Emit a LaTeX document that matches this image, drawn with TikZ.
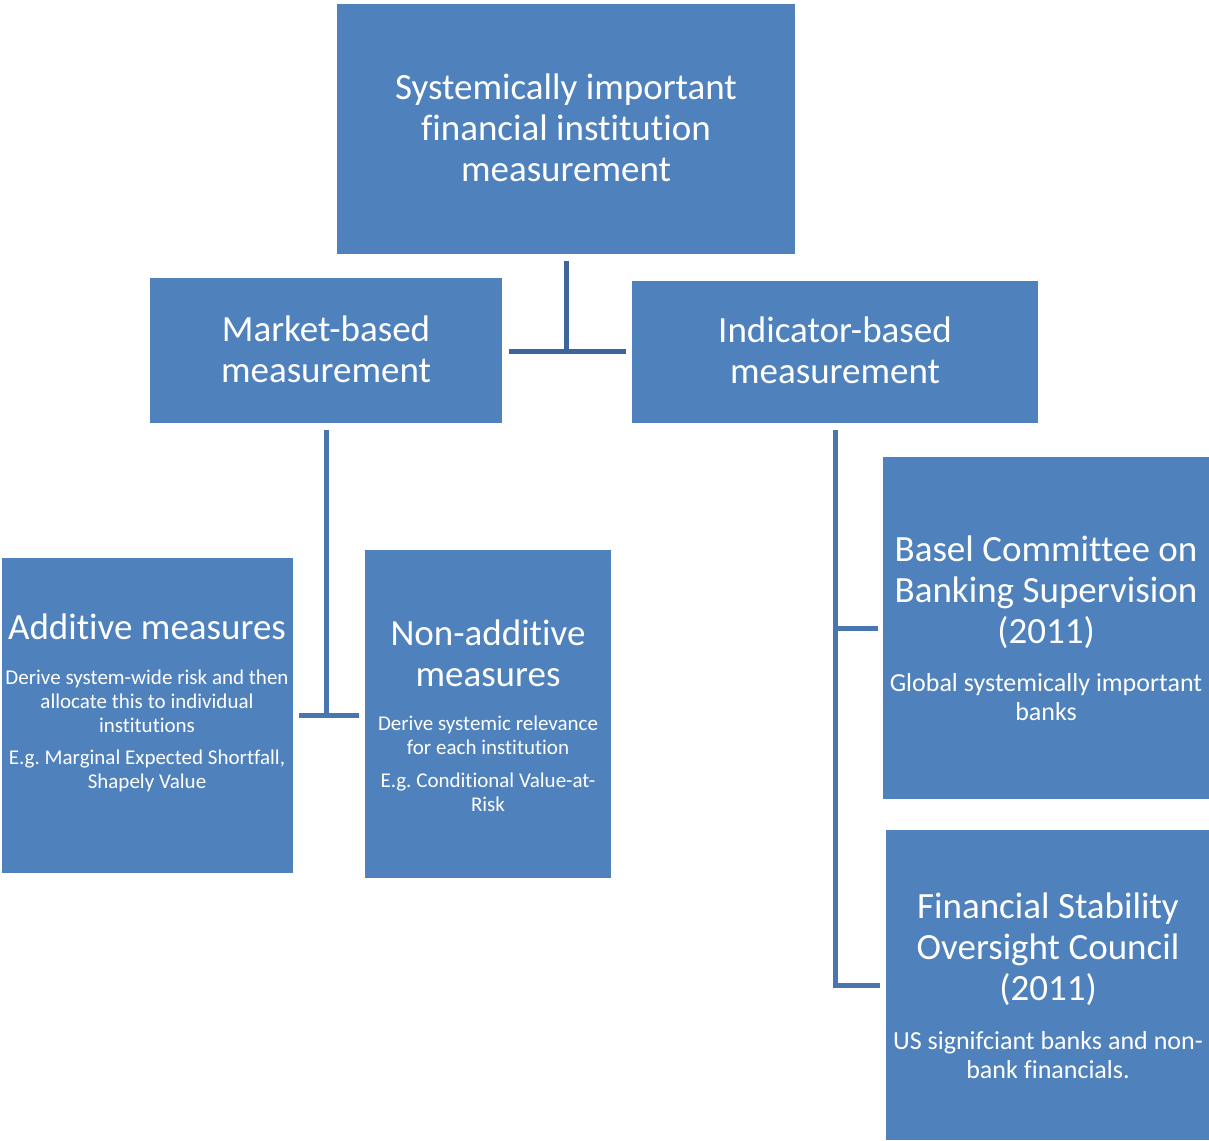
\documentclass[tikz,border=0pt]{standalone}
\usepackage{fontspec}
\setmainfont{Carlito}[RawFeature={-liga;-clig}]
\definecolor{boxblue}{HTML}{4F81BD}
\definecolor{linkdark}{HTML}{3D6598}
\definecolor{linkblue}{HTML}{4A76B0}
% fixed word spaces so centred lines keep their natural width
\newcommand\fixspace{\frenchspacing\spaceskip=0.23em\relax\xspaceskip=0.23em\relax}
\newcommand\ttlfont{\fontsize{37}{41}\selectfont\fixspace}
\newcommand\smlfont{\fontsize{21}{24}\selectfont\fixspace}
\newcommand\medfont{\fontsize{26}{29}\selectfont\fixspace}
\begin{document}
\begin{tikzpicture}[x=1pt,y=-1pt,
  box/.style={draw=none,fill=boxblue,inner sep=0pt,outer sep=0pt},
  txt/.style={text=white,anchor=base,align=center,text width=#1,inner sep=0pt},
  txt/.default=330pt,
  conn/.style={draw=linkblue,line width=5pt},
  conndark/.style={draw=linkdark,line width=5pt}]
\useasboundingbox (0,0) rectangle (1209,1140);

% boxes
\node[box,minimum width=458pt,minimum height=250pt] (top) at (566,129) {};
\node[box,minimum width=352pt,minimum height=145pt] (mkt) at (326,350.5) {};
\node[box,minimum width=406pt,minimum height=142pt] (ind) at (835,352) {};
\node[box,minimum width=291pt,minimum height=315pt] (add) at (147.5,715.5) {};
\node[box,minimum width=246pt,minimum height=328pt] (nadd) at (488,714) {};
\node[box,minimum width=326pt,minimum height=342pt] (basel) at (1046,628) {};
\node[box,minimum width=323pt,minimum height=310pt] (fsoc) at (1047.5,985) {};

% texts
\node[txt=440pt] (topt) at (566,99) {\ttlfont Systemically important\\ financial institution\\ measurement\par};
\node[txt] (mktt) at (326,341) {\ttlfont Market-based\\ measurement\par};
\node[txt] (indt) at (835,342) {\ttlfont Indicator-based\\ measurement\par};
\node[txt=320pt] (addt) at (147,639) {\ttlfont Additive measures\par\vspace{21pt}
  \smlfont Derive system-wide risk and then\\ allocate this to individual\\ institutions\par\vspace{8pt}
  \smlfont E.g. Marginal Expected Shortfall,\\ Shapely Value\par};
\node[txt=260pt] (naddt) at (488,645) {\ttlfont Non-additive\\ measures\par\vspace{20pt}
  \smlfont Derive systemic relevance\\ for each institution\par\vspace{9pt}
  \smlfont E.g. Conditional Value-at-\\ Risk\par};
\node[txt=340pt] (baselt) at (1046,561) {\ttlfont Basel Committee on\\ Banking Supervision\\ (2011)\par\vspace{19pt}
  \medfont Global systemically important\\ banks\par};
\node[txt=340pt] (fsoct) at (1048,918) {\ttlfont Financial Stability\\ Oversight Council\\ (2011)\par\vspace{20pt}
  \medfont US signifciant banks and non-\\ bank financials.\par};

% connectors
\coordinate (j1) at (566,351);
\draw[conndark] ([yshift=-7pt]top.south) -- (j1);
\draw[conndark] ([xshift=7pt]mkt.east |- j1) -- ([xshift=-6pt]ind.west |- j1);

\coordinate (j2) at (326,715);
\draw[conn] ([yshift=-7pt]mkt.south) -- (j2);
\draw[conn] ([xshift=6pt]add.east |- j2) -- ([xshift=-6pt]nadd.west |- j2);

\coordinate (j3) at (835,628);
\coordinate (j4) at (835,985);
\draw[conn] ([yshift=-7pt]ind.south) -- (j4) -- ([xshift=-6pt]fsoc.west |- j4);
\draw[conn] (j3) -- ([xshift=-5pt]basel.west |- j3);
\end{tikzpicture}
\end{document}
